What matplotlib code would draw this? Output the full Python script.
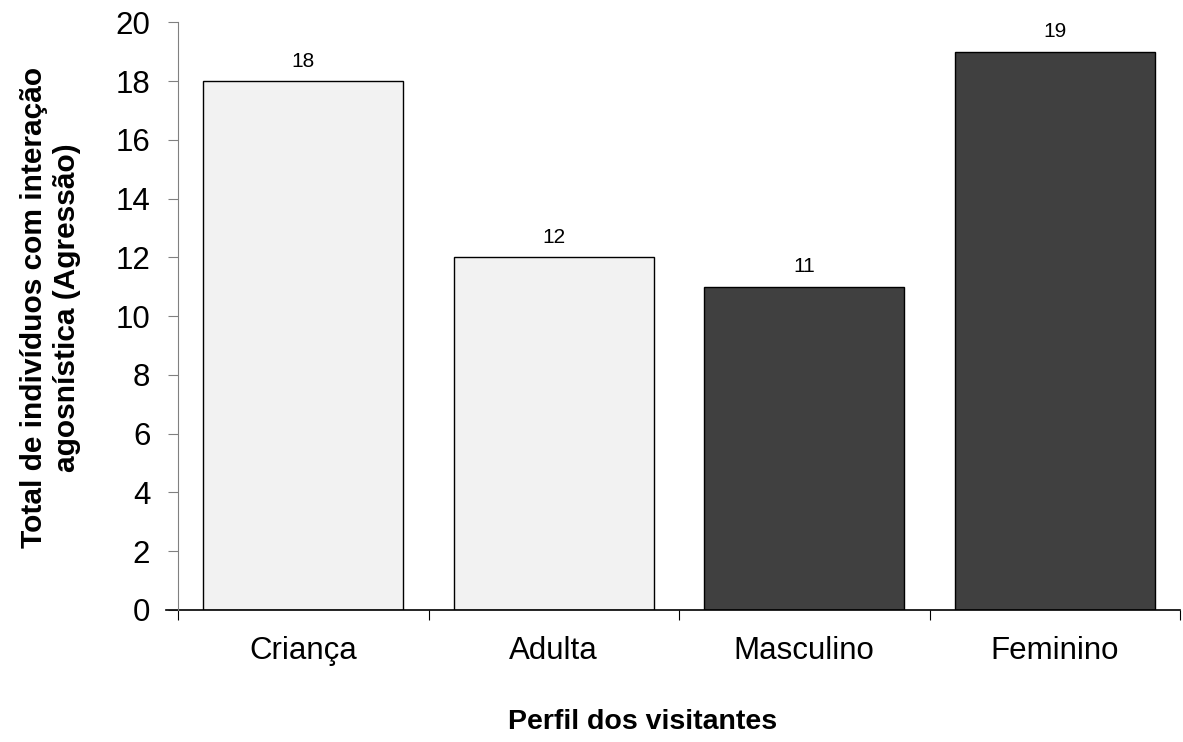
import matplotlib.pyplot as plt

plt.rcParams['font.family'] = ['Liberation Sans', 'DejaVu Sans']

# Data
categories = ['Criança', 'Adulta', 'Masculino', 'Feminino']
values = [18, 12, 11, 19]
colors = ['#f2f2f2', '#f2f2f2', '#404040', '#404040']

fig = plt.figure(figsize=(11.83, 7.42), dpi=100)
ax = fig.add_axes([0.1505, 0.178, 0.847, 0.792])

x = range(len(categories))
ax.bar(x, values, width=0.8, color=colors, edgecolor='black', linewidth=1)

# value labels above bars
for xi, v in zip(x, values):
    ax.text(xi, v + 0.35, str(v), ha='center', va='bottom', fontsize=15)

ax.set_xlim(-0.5, len(categories) - 0.5)
ax.set_ylim(0, 20)
ax.set_yticks(range(0, 21, 2))
ax.tick_params(axis='y', labelsize=22.5, length=7, color='#808080', pad=13)

# category labels centred, ticks at boundaries
ax.set_xticks([i + 0.5 for i in range(-1, len(categories))])
ax.set_xticklabels([])
ax.set_xticks(list(x), minor=True)
ax.set_xticklabels(categories, minor=True, fontsize=22.5)
ax.tick_params(axis='x', which='minor', length=0, pad=19)
ax.tick_params(axis='x', which='major', length=7, color='black')

for side in ['top', 'right']:
    ax.spines[side].set_visible(False)
ax.spines['left'].set_color('#808080')
ax.spines['bottom'].set_visible(False)
ax.axhline(0, xmin=-0.012, xmax=1, color='black', linewidth=1.2, clip_on=False)

ax.set_xlabel('Perfil dos visitantes', fontsize=20.5, fontweight='bold')
ax.xaxis.set_label_coords(0.464, -0.168)
ax.set_ylabel('Total de indivíduos com interação\nagosnística (Agressão)',
              fontsize=21.5, fontweight='bold')
ax.yaxis.set_label_coords(-0.097, 0.515)

fig.savefig('out.png', dpi=100)
